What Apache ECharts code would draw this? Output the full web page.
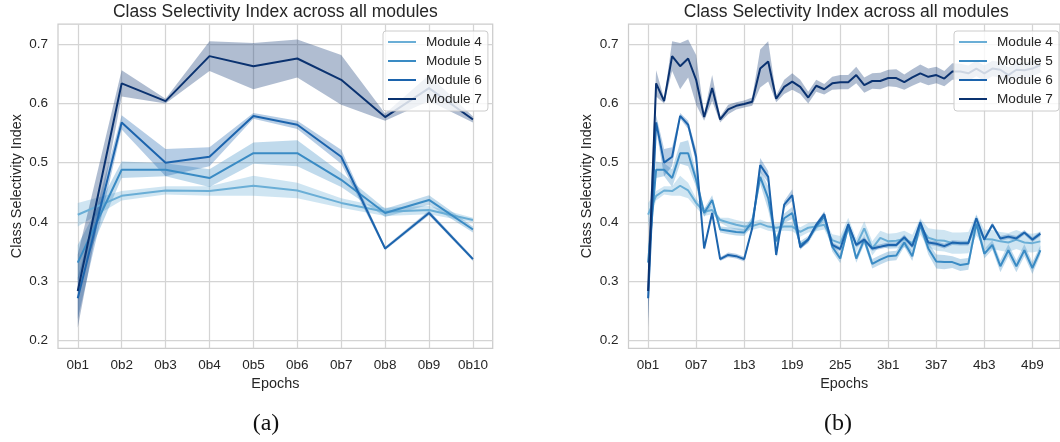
<!DOCTYPE html>
<html>
<head>
<meta charset="utf-8">
<script src="https://cdn.jsdelivr.net/npm/echarts@6/dist/echarts.min.js"></script>
<style>
html,body{margin:0;padding:0;background:#fff;}
#chart{width:1060px;height:442px;}
</style>
</head>
<body>
<div id="chart"></div>
<script>
// ---------- categories / ticks ----------
const leftCats = ['0b1','0b2','0b3','0b4','0b5','0b6','0b7','0b8','0b9','0b10'];
const rightCats = [
  '0b1','0b2','0b3','0b4','0b5','0b6','0b7','0b8','0b9','0b10',
  '1b1','1b2','1b3','1b4','1b5','1b6','1b7','1b8','1b9','1b10',
  '2b1','2b2','2b3','2b4','2b5','2b6','2b7','2b8','2b9','2b10',
  '3b1','3b2','3b3','3b4','3b5','3b6','3b7','3b8','3b9','3b10',
  '4b1','4b2','4b3','4b4','4b5','4b6','4b7','4b8','4b9','4b10'
];
const leftTickIdx = [0,1,2,3,4,5,6,7,8,9];
const rightTickIdx = [0,6,12,18,24,30,36,42,48];
const yTicks = [0.2,0.3,0.4,0.5,0.6,0.7];
const moduleNames = ['Module 4','Module 5','Module 6','Module 7'];

// ---------- left panel (a): mean values ----------
const m4Left = [0.412,0.444,0.453,0.452,0.461,0.453,0.432,0.417,0.420,0.403];
const m5Left = [0.331,0.488,0.488,0.474,0.516,0.516,0.471,0.415,0.437,0.387];
const m6Left = [0.271,0.568,0.500,0.510,0.579,0.564,0.510,0.355,0.415,0.337];
const m7Left = [0.283,0.634,0.604,0.680,0.663,0.676,0.640,0.577,0.626,0.573];
// confidence half-widths
const ci4Left = [0.020,0.008,0.007,0.008,0.017,0.013,0.008,0.007,0.007,0.004];
const ci5Left = [0.030,0.014,0.011,0.015,0.018,0.022,0.012,0.007,0.008,0.005];
const ci6Left = [0.035,0.012,0.023,0.016,0.005,0.007,0.012,0.003,0.004,0.003];
const ci7Left = [0.062,0.022,0.004,0.025,0.039,0.032,0.042,0.006,0.022,0.005];

// ---------- right panel (b): mean values ----------
const m4Right = [0.412,0.444,0.453,0.452,0.461,0.453,0.432,0.417,0.420,0.403,
  0.399,0.395,0.392,0.393,0.397,0.392,0.390,0.392,0.392,0.383,
  0.390,0.392,0.395,0.369,0.364,0.395,0.360,0.389,0.355,0.373,
  0.367,0.368,0.371,0.364,0.392,0.373,0.369,0.368,0.364,0.364,
  0.365,0.395,0.371,0.370,0.367,0.365,0.370,0.365,0.364,0.367];
const m5Right = [0.331,0.488,0.488,0.474,0.516,0.516,0.471,0.415,0.437,0.387,
  0.385,0.383,0.382,0.400,0.476,0.440,0.367,0.406,0.415,0.361,
  0.370,0.392,0.409,0.358,0.338,0.392,0.338,0.370,0.329,0.336,
  0.342,0.343,0.365,0.342,0.395,0.355,0.333,0.332,0.332,0.327,
  0.329,0.397,0.346,0.361,0.325,0.352,0.325,0.352,0.322,0.352];
const m6Right = [0.271,0.568,0.500,0.510,0.579,0.564,0.510,0.355,0.415,0.337,
  0.344,0.342,0.337,0.389,0.496,0.476,0.344,0.429,0.445,0.357,
  0.370,0.395,0.413,0.361,0.354,0.396,0.361,0.370,0.355,0.358,
  0.361,0.361,0.374,0.359,0.399,0.365,0.363,0.359,0.365,0.364,
  0.364,0.406,0.370,0.395,0.372,0.375,0.372,0.382,0.370,0.380];
const m7Right = [0.283,0.634,0.604,0.680,0.663,0.676,0.640,0.577,0.626,0.573,
  0.590,0.596,0.599,0.603,0.659,0.671,0.608,0.628,0.637,0.628,
  0.610,0.630,0.624,0.634,0.636,0.636,0.648,0.631,0.638,0.638,
  0.643,0.643,0.636,0.644,0.651,0.645,0.648,0.642,0.654,0.654,
  0.651,0.659,0.651,0.659,0.657,0.648,0.657,0.656,0.659,0.665];
const ci4Right = [0.020,0.008,0.007,0.008,0.017,0.013,0.008,0.007,0.007,0.004,
  0.008,0.008,0.008,0.007,0.007,0.007,0.007,0.007,0.008,0.008,
  0.008,0.008,0.008,0.010,0.012,0.012,0.012,0.012,0.012,0.012,
  0.013,0.013,0.014,0.014,0.014,0.016,0.018,0.018,0.018,0.018,
  0.018,0.018,0.016,0.016,0.016,0.016,0.016,0.016,0.016,0.016];
const ci5Right = [0.030,0.014,0.011,0.015,0.018,0.022,0.012,0.007,0.008,0.005,
  0.006,0.006,0.006,0.008,0.012,0.020,0.008,0.008,0.010,0.006,
  0.006,0.006,0.007,0.008,0.008,0.007,0.007,0.008,0.008,0.008,
  0.008,0.008,0.007,0.008,0.007,0.010,0.012,0.012,0.010,0.010,
  0.010,0.008,0.008,0.008,0.010,0.010,0.010,0.010,0.010,0.008];
const ci6Right = [0.035,0.012,0.023,0.016,0.005,0.007,0.012,0.003,0.004,0.003,
  0.004,0.004,0.004,0.005,0.012,0.010,0.004,0.006,0.010,0.004,
  0.004,0.004,0.005,0.004,0.004,0.004,0.004,0.004,0.004,0.004,
  0.004,0.004,0.004,0.004,0.005,0.004,0.004,0.004,0.004,0.004,
  0.004,0.005,0.004,0.004,0.004,0.004,0.004,0.004,0.004,0.004];
const ci7Right = [0.062,0.022,0.004,0.025,0.039,0.032,0.042,0.006,0.022,0.005,
  0.008,0.006,0.006,0.007,0.032,0.034,0.006,0.012,0.014,0.012,
  0.010,0.010,0.009,0.011,0.012,0.012,0.014,0.013,0.013,0.014,
  0.014,0.015,0.013,0.014,0.015,0.014,0.014,0.013,0.014,0.013,
  0.013,0.013,0.013,0.013,0.013,0.013,0.013,0.013,0.013,0.013];

const colors = ['#6aaed6','#3a8bc4','#1c64ad','#0a3270'];
const bandAlpha = 0.32;
const textColor = '#262626';
const gridColor = '#d4d4d4';
const FONT = '"Liberation Sans", Arial, sans-serif';

function rgba(hex, a) {
  const n = parseInt(hex.slice(1), 16);
  return 'rgba(' + (n >> 16 & 255) + ',' + (n >> 8 & 255) + ',' + (n & 255) + ',' + a + ')';
}

function bandSeries(gi, means, cis, k) {
  const data = means.map((v, i) => [i, v - cis[i], v + cis[i]]);
  return {
    type:'custom', xAxisIndex:gi, yAxisIndex:gi, silent:true, animation:false,
    encode:{x:0, y:[1,2]}, data:data,
    renderItem: function (params, api) {
      if (params.dataIndex !== 0) return null;
      const pts = [];
      for (let i = 0; i < data.length; i++) pts.push(api.coord([data[i][0], data[i][2]]));
      for (let i = data.length - 1; i >= 0; i--) pts.push(api.coord([data[i][0], data[i][1]]));
      return {type:'polygon', shape:{points:pts}, style:{fill: rgba(colors[k], bandAlpha), stroke:null}};
    }
  };
}
function lineSeries(gi, means, k) {
  return {type:'line', name: moduleNames[k], xAxisIndex:gi, yAxisIndex:gi, symbol:'none', showSymbol:false, animation:false,
    data: means.map((v,i)=>[i, v]), lineStyle:{color:colors[k], width:2}, itemStyle:{color:colors[k]}};
}

const leftMeans = [m4Left, m5Left, m6Left, m7Left];
const leftCis = [ci4Left, ci5Left, ci6Left, ci7Left];
const rightMeans = [m4Right, m5Right, m6Right, m7Right];
const rightCis = [ci4Right, ci5Right, ci6Right, ci7Right];

const series = [];
[[0, leftMeans, leftCis],[1, rightMeans, rightCis]].forEach(([gi, ms, cs]) => {
  for (let k = 0; k < 4; k++) {
    series.push(bandSeries(gi, ms[k], cs[k], k));
    series.push(lineSeries(gi, ms[k], k));
  }
});

function xAxis(gi, min, max, ticks, cats) {
  return {type:'value', gridIndex:gi, min:min, max:max,
    axisLine:{show:false}, axisTick:{show:false, customValues:ticks},
    axisLabel:{customValues:ticks, formatter:(v)=>cats[Math.round(v)], color:textColor, fontSize:13.5, fontFamily:FONT, margin:10},
    splitLine:{show:true, lineStyle:{color:gridColor, width:1.25}},
    name:'Epochs', nameLocation:'middle', nameGap:27,
    nameTextStyle:{color:textColor, fontSize:14.4, fontFamily:FONT}};
}
function yAxis(gi) {
  return {type:'value', gridIndex:gi, min:0.1863, max:0.7343,
    axisLine:{show:false}, axisTick:{show:false, customValues:yTicks},
    axisLabel:{customValues:yTicks, formatter:(v)=>v.toFixed(1), color:textColor, fontSize:13.5, fontFamily:FONT, margin:10},
    splitLine:{show:true, lineStyle:{color:gridColor, width:1.25}},
    name:'Class Selectivity Index', nameLocation:'middle', nameGap:34,
    nameTextStyle:{color:textColor, fontSize:14.4, fontFamily:FONT}};
}
function legend(left) {
  return {data: moduleNames.map((n, k) => ({name:n, itemStyle:{color:colors[k]}})),
    orient:'vertical', left:left, top:31, icon:'rect', itemWidth:28, itemHeight:2, itemGap:5,
    padding:[4,6,5,5], backgroundColor:'rgba(255,255,255,0.8)', borderColor:'#cccccc', borderWidth:1, borderRadius:3,
    textStyle:{color:textColor, fontSize:13.6, fontFamily:FONT, padding:[0,0,0,5]}, selectedMode:false};
}

const option = {
  backgroundColor:'#ffffff',
  animation:false,
  grid:[
    {left:58, top:24, width:434.7, height:324.3, show:true, borderColor:'#cccccc', borderWidth:1.25, backgroundColor:'#fff'},
    {left:628.5, top:24, width:435.5, height:324.3, show:true, borderColor:'#cccccc', borderWidth:1.25, backgroundColor:'#fff'}
  ],
  xAxis:[xAxis(0, -0.45, 9.45, leftTickIdx, leftCats), xAxis(1, -2.45, 51.45, rightTickIdx, rightCats)],
  yAxis:[yAxis(0), yAxis(1)],
  legend:[legend(383), legend(954)],
  graphic:[
    {type:'text', x:275.4, y:12, style:{text:'Class Selectivity Index across all modules', font:'17.5px ' + FONT, fill:textColor, align:'center', verticalAlign:'middle'}},
    {type:'text', x:846.2, y:12, style:{text:'Class Selectivity Index across all modules', font:'17.5px ' + FONT, fill:textColor, align:'center', verticalAlign:'middle'}},
    {type:'text', x:266, y:424, style:{text:'(a)', font:'24px "Liberation Serif", "DejaVu Serif", serif', fill:'#111', align:'center', verticalAlign:'middle'}},
    {type:'text', x:838, y:424, style:{text:'(b)', font:'24px "Liberation Serif", "DejaVu Serif", serif', fill:'#111', align:'center', verticalAlign:'middle'}}
  ],
  series: series
};

const chart = echarts.init(document.getElementById('chart'), null, {renderer:'canvas'});
chart.setOption(option);
</script>
</body>
</html>
